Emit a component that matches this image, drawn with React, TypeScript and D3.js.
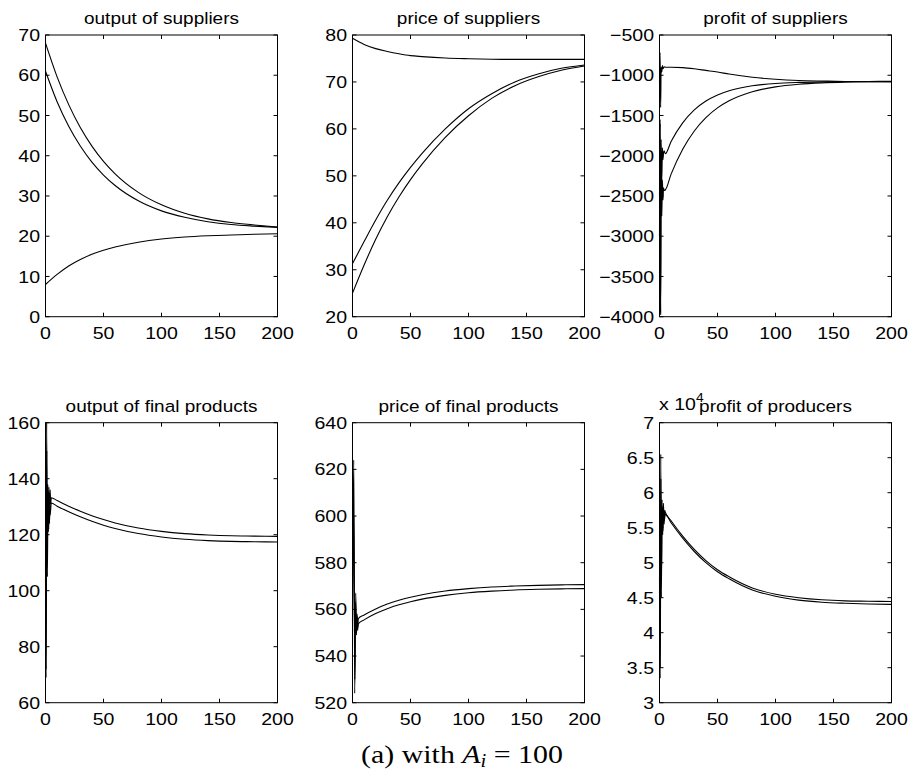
import React from "react";
import * as d3 from "d3";

// time samples (smooth part) and x ticks
const T = [0, 10, 20, 30, 40, 50, 60, 80, 100, 120, 140, 160, 180, 200];
const T5 = [5, 10, 20, 30, 40, 50, 60, 80, 100, 120, 140, 160, 180, 200];
const X_TICKS = [0, 50, 100, 150, 200];

// output of suppliers
const outSup1 = [68, 59.6, 52.7, 47.0, 42.4, 38.6, 35.5, 30.9, 27.8, 25.7, 24.3, 23.4, 22.8, 22.3];
const outSup2 = [61, 53.4, 47.3, 42.4, 38.4, 35.2, 32.6, 28.8, 26.3, 24.7, 23.6, 22.9, 22.5, 22.2];
const outSup3 = [8, 10.5, 12.6, 14.2, 15.5, 16.5, 17.3, 18.5, 19.3, 19.8, 20.1, 20.3, 20.5, 20.6];
const Y_TICKS_OUT_SUP = [0, 10, 20, 30, 40, 50, 60, 70];

// price of suppliers
const priceSup1 = [79.3, 78.0, 77.1, 76.5, 76.0, 75.6, 75.4, 75.1, 74.95, 74.85, 74.8, 74.8, 74.8, 74.8];
const priceSup2 = [31.3, 36, 40.6, 44.8, 48.5, 51.8, 54.8, 60, 64.3, 67.5, 70, 71.7, 72.9, 73.6];
const priceSup3 = [25, 31, 36.5, 41.3, 45.5, 49.2, 52.5, 58.2, 62.8, 66.5, 69.2, 71.1, 72.5, 73.4];
const Y_TICKS_PRICE_SUP = [20, 30, 40, 50, 60, 70, 80];

// profit of suppliers (start transient + smooth part)
const profSup1StartT = [0, 0.5, 1, 1.4, 2, 2.5, 3, 4];
const profSup1Start = [-1100, -720, -1400, -900, -960, -880, -920, -895];
const profSup1 = [-900, -900, -905, -920, -940, -960, -985, -1025, -1050, -1065, -1072, -1077, -1080, -1082];
const profSup2StartT = [0, 0.5, 0.9, 1.4, 2, 2.5, 3, 3.5, 4];
const profSup2Start = [-3000, -1550, -3950, -1800, -2300, -1900, -2050, -1960, -1940];
const profSup2 = [-1975, -1823, -1592, -1431, -1321, -1245, -1192, -1131, -1102, -1089, -1082, -1078, -1077, -1076];
const profSup3StartT = [0, 0.6, 1.0, 1.5, 2, 2.5, 3, 3.5, 4];
const profSup3Start = [-2500, -1600, -3980, -2000, -2750, -2300, -2550, -2400, -2430];
const profSup3 = [-2425, -2229, -1920, -1693, -1527, -1406, -1318, -1205, -1144, -1112, -1095, -1086, -1081, -1078];
const Y_TICKS_PROF_SUP = [-4000, -3500, -3000, -2500, -2000, -1500, -1000, -500];

// output of final products
const outFin1StartT = [0, 0.5, 1, 1.5, 2, 2.5, 3, 3.5, 4, 4.5];
const outFin1Start = [110, 69, 160, 110, 138, 121, 137, 124, 136, 131];
const outFin1 = [133.2, 132.2, 130.2, 128.4, 126.8, 125.4, 124.2, 122.4, 121.2, 120.4, 119.9, 119.6, 119.5, 119.4];
const outFin2StartT = [0, 0.6, 1.1, 1.6, 2.2, 2.8, 3.4, 4];
const outFin2Start = [105, 72, 150, 105, 135, 122, 133, 127];
const outFin2 = [131.3, 130.2, 128.2, 126.4, 124.8, 123.4, 122.2, 120.4, 119.2, 118.4, 117.9, 117.6, 117.5, 117.4];
const Y_TICKS_OUT_FIN = [60, 80, 100, 120, 140, 160];

// price of final products
const priceFin1StartT = [0, 1.1, 1.9, 2.8, 3.4, 4, 4.5];
const priceFin1Start = [560, 624, 524, 567, 549, 558, 551];
const priceFin1 = [556, 557.6, 560.2, 562.3, 563.9, 565.2, 566.3, 567.9, 568.9, 569.6, 570.0, 570.3, 570.5, 570.6];
const priceFin2StartT = [0, 1.2, 2, 2.7, 3.3, 3.9, 4.4];
const priceFin2Start = [555, 600, 530, 563, 550, 557, 552];
const priceFin2 = [553.8, 555.5, 558.2, 560.3, 562.0, 563.3, 564.4, 566.0, 567.1, 567.8, 568.3, 568.6, 568.8, 568.9];
const Y_TICKS_PRICE_FIN = [520, 540, 560, 580, 600, 620, 640];

// profit of producers (x 10^4)
const profProd1StartT = [0, 0.6, 1.1, 1.6, 2.2, 2.8, 3.4, 4, 4.5];
const profProd1Start = [4.8, 3.35, 6.55, 4.5, 5.9, 5.4, 5.85, 5.55, 5.75];
const profProd1 = [5.72, 5.6, 5.38, 5.19, 5.03, 4.9, 4.8, 4.64, 4.55, 4.5, 4.47, 4.455, 4.45, 4.445];
const profProd2StartT = [0, 0.7, 1.2, 1.7, 2.3, 2.9, 3.5, 4.1];
const profProd2Start = [4.6, 3.5, 6.2, 4.8, 5.8, 5.45, 5.75, 5.6];
const profProd2 = [5.69, 5.57, 5.35, 5.16, 5.0, 4.87, 4.77, 4.61, 4.52, 4.465, 4.435, 4.42, 4.41, 4.405];
const Y_TICKS_PROF_PROD = [3, 3.5, 4, 4.5, 5, 5.5, 6, 6.5, 7];

type Series = { t: number[]; v: number[] };

const COLS = [45.5, 352.5, 659.5];
const ROWS = [
  { top: 35, h: 281.7 },
  { top: 422.7, h: 280 },
];
const W = 232;
const SX = 1.15;
const SANS = "'Liberation Sans', Arial, Helvetica, sans-serif";

function Txt(props: { x: number; y: number; anchor?: string; size: number; children: React.ReactNode }) {
  return (
    <text
      transform={`translate(${props.x},${props.y}) scale(${SX},1)`}
      textAnchor={props.anchor || "start"}
      fontSize={props.size}
      fontFamily={SANS}
      fill="#000"
    >
      {props.children}
    </text>
  );
}

const join = (t0: number[], v0: number[], t1: number[], v1: number[]): Series => ({
  t: t0.concat(t1),
  v: v0.concat(v1),
});

const fmt = (v: number) => String(v).replace("-", "\u2212");

function Panel(props: {
  col: number;
  row: number;
  title: string;
  yDomain: [number, number];
  yTicks: number[];
  series: Series[];
}) {
  const x0 = COLS[props.col];
  const { top, h } = ROWS[props.row];
  const xs = d3.scaleLinear().domain([0, 200]).range([x0, x0 + W]);
  const ys = d3.scaleLinear().domain(props.yDomain).range([top + h, top]);
  const line = d3
    .line<[number, number]>()
    .x((d) => xs(d[0]))
    .y((d) => ys(d[1]))
    .curve(d3.curveMonotoneX);
  const bottom = top + h;
  const TL = 4;
  return (
    <g>
      {props.series.map((s, i) => (
        <path
          key={i}
          d={line(s.t.map((t, j) => [t, s.v[j]] as [number, number])) || ""}
          fill="none"
          stroke="#000"
          strokeWidth={1.1}
        />
      ))}
      <rect x={x0} y={top} width={W} height={h} fill="none" stroke="#000" strokeWidth={1} />
      {X_TICKS.map((t) => (
        <g key={"x" + t}>
          <line x1={xs(t)} x2={xs(t)} y1={bottom} y2={bottom - TL} stroke="#000" />
          <line x1={xs(t)} x2={xs(t)} y1={top} y2={top + TL} stroke="#000" />
          <Txt x={xs(t)} y={bottom + 22} anchor="middle" size={17}>
            {t}
          </Txt>
        </g>
      ))}
      {props.yTicks.map((v) => (
        <g key={"y" + v}>
          <line x1={x0} x2={x0 + TL} y1={ys(v)} y2={ys(v)} stroke="#000" />
          <line x1={x0 + W} x2={x0 + W - TL} y1={ys(v)} y2={ys(v)} stroke="#000" />
          <Txt x={x0 - 5.5} y={ys(v) + 6.1} anchor="end" size={17}>
            {fmt(v)}
          </Txt>
        </g>
      ))}
      <Txt x={x0 + W / 2} y={top - 11} anchor="middle" size={16.5}>
        {props.title}
      </Txt>
    </g>
  );
}

export default function App() {
  return (
    <svg
      width={911}
      height={774}
      style={{ position: "absolute", left: 0, top: 0, background: "#fff" }}
    >
      <rect width={911} height={774} fill="#fff" />
      <Panel
        col={0}
        row={0}
        title="output of suppliers"
        yDomain={[0, 70]}
        yTicks={Y_TICKS_OUT_SUP}
        series={[
          { t: T, v: outSup1 },
          { t: T, v: outSup2 },
          { t: T, v: outSup3 },
        ]}
      />
      <Panel
        col={1}
        row={0}
        title="price of suppliers"
        yDomain={[20, 80]}
        yTicks={Y_TICKS_PRICE_SUP}
        series={[
          { t: T, v: priceSup1 },
          { t: T, v: priceSup2 },
          { t: T, v: priceSup3 },
        ]}
      />
      <Panel
        col={2}
        row={0}
        title="profit of suppliers"
        yDomain={[-4000, -500]}
        yTicks={Y_TICKS_PROF_SUP}
        series={[
          join(profSup1StartT, profSup1Start, T5, profSup1),
          join(profSup2StartT, profSup2Start, T5, profSup2),
          join(profSup3StartT, profSup3Start, T5, profSup3),
        ]}
      />
      <Panel
        col={0}
        row={1}
        title="output of final products"
        yDomain={[60, 160]}
        yTicks={Y_TICKS_OUT_FIN}
        series={[
          join(outFin1StartT, outFin1Start, T5, outFin1),
          join(outFin2StartT, outFin2Start, T5, outFin2),
        ]}
      />
      <Panel
        col={1}
        row={1}
        title="price of final products"
        yDomain={[520, 640]}
        yTicks={Y_TICKS_PRICE_FIN}
        series={[
          join(priceFin1StartT, priceFin1Start, T5, priceFin1),
          join(priceFin2StartT, priceFin2Start, T5, priceFin2),
        ]}
      />
      <Panel
        col={2}
        row={1}
        title="profit of producers"
        yDomain={[3, 7]}
        yTicks={Y_TICKS_PROF_PROD}
        series={[
          join(profProd1StartT, profProd1Start, T5, profProd1),
          join(profProd2StartT, profProd2Start, T5, profProd2),
        ]}
      />
      {/* exponent label of the last panel */}
      <Txt x={659} y={410} size={17}>
        x 10
      </Txt>
      <Txt x={696} y={402} size={12}>
        4
      </Txt>
      {/* caption */}
      <text
        transform={`translate(462,763) scale(${SX},1)`}
        textAnchor="middle"
        fontSize={26}
        fontFamily="'Liberation Serif', 'Times New Roman', serif"
        fill="#000"
      >
        <tspan>(a) with </tspan>
        <tspan fontStyle="italic">A</tspan>
        <tspan fontStyle="italic" fontSize={18} dy={4}>
          i
        </tspan>
        <tspan dy={-4}> = 100</tspan>
      </text>
    </svg>
  );
}
